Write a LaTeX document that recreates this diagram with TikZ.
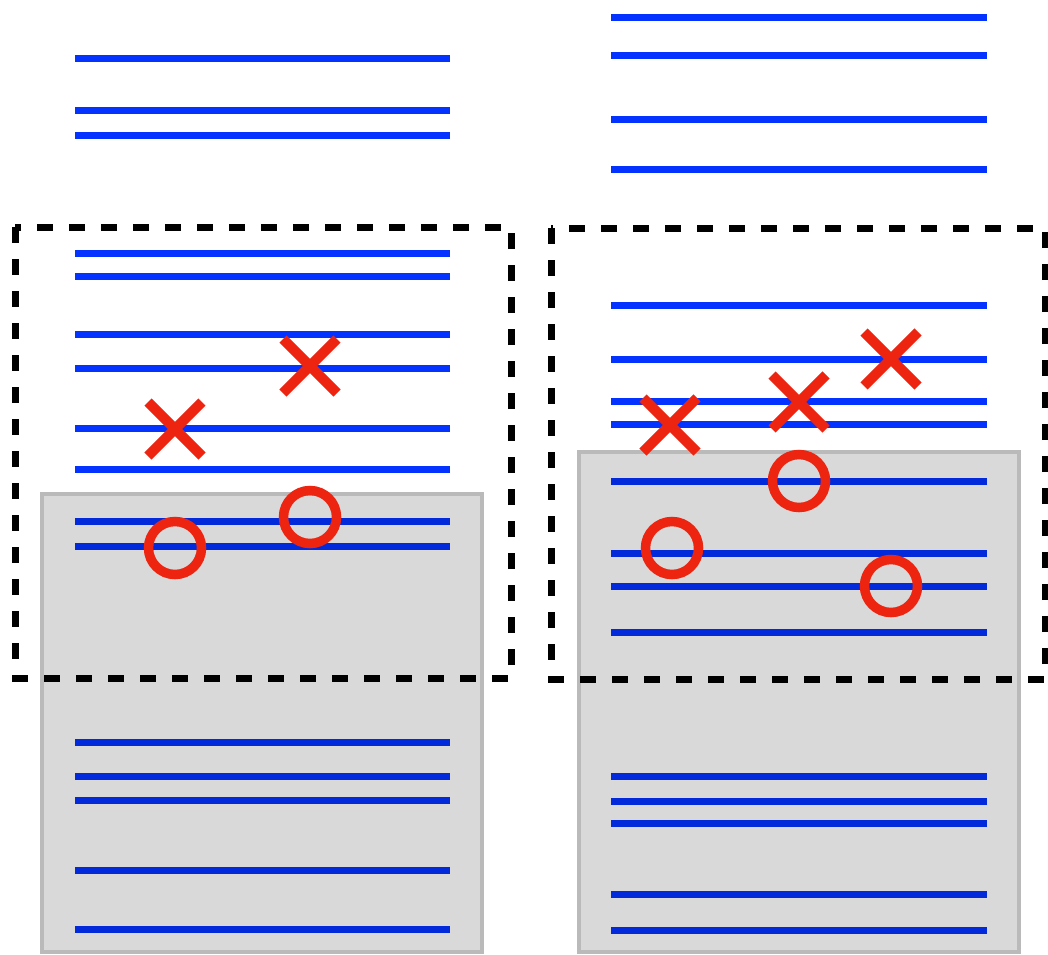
\documentclass[tikz,border=0pt]{standalone}
\definecolor{lblue}{RGB}{4,51,255}
\definecolor{dblue}{RGB}{3,42,218}
\definecolor{mred}{RGB}{236,36,16}
\definecolor{boxfill}{RGB}{217,217,217}
\definecolor{boxedge}{RGB}{186,186,186}
\tikzset{
  bline/.style={lblue, line width=7pt},
  gline/.style={dblue, line width=7pt},
  graybox/.style={fill=boxfill, draw=boxedge, line width=4pt},
  dashbox/.style={draw=black, line width=7pt, dash pattern=on 16pt off 16pt},
  xmark/.style={mred, line width=10pt},
  omark/.style={draw=mred, line width=9.5pt},
}
\begin{document}
\begin{tikzpicture}[x=1pt,y=-1pt]
\useasboundingbox (0,0) rectangle (1048,954);
\begin{scope}
\clip (0,0) rectangle (1048,954);
% lines outside gray
\foreach \y in {58,110,135,253,276,334,368,428,469}
  \draw[bline] (75,\y) -- (450,\y);
\foreach \y in {17,55,119,169,305,359,401,424}
  \draw[bline] (611,\y) -- (987,\y);
% gray boxes
\draw[graybox] (42,494) rectangle (482,952);
\draw[graybox] (579,452) rectangle (1019,952);
% lines inside gray
\foreach \y in {521,546,742,776,800,870,929}
  \draw[gline] (75,\y) -- (450,\y);
\foreach \y in {481,553,586,632,776,801,823,894,930}
  \draw[gline] (611,\y) -- (987,\y);
% dashed boxes
\draw[dashbox] (15,227) rectangle (511,678);
\draw[dashbox] (551,228) rectangle (1045,679);
% crosses
\foreach \cx/\cy in {175/429,310/366,670/425,799/402,891/359}
  \draw[xmark] (\cx-27,\cy-27) -- (\cx+27,\cy+27) (\cx-27,\cy+27) -- (\cx+27,\cy-27);
% circles
\foreach \cx/\cy in {175/548,310/517,799/481,672/548,891/586}
  \draw[omark] (\cx,\cy) circle (26.5);
\end{scope}
\end{tikzpicture}
\end{document}
